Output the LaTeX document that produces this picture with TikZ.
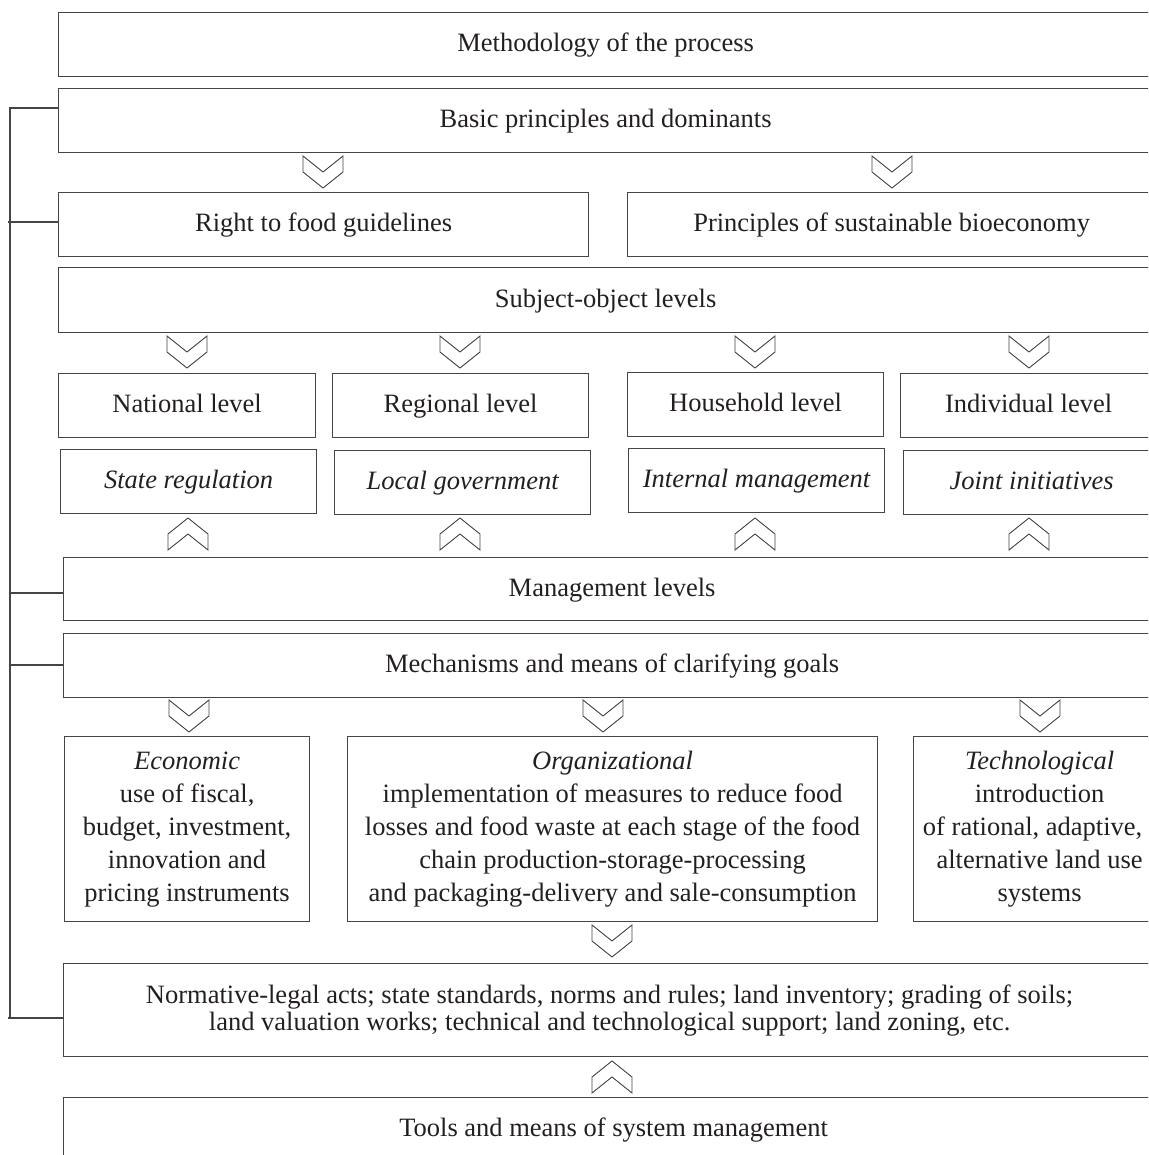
\documentclass[tikz,border=0pt]{standalone}
\usepackage{fontspec}
\setmainfont{Liberation Serif}
\usetikzlibrary{calc}

\definecolor{linegray}{HTML}{454545}
\definecolor{textgray}{HTML}{231F20}

\tikzset{
  blkm/.style={draw=linegray, line width=1.2pt, rectangle, anchor=north west,
    inner sep=0pt, align=center, text=textgray,
    font=\fontsize{26.5}{33}\selectfont},
  blk/.style={blkm, text height=19pt, text depth=5pt},
  chev/.style={draw=linegray, line width=0.9pt, line join=miter},
  brk/.style={draw=linegray, line width=1.1pt}
}

% freccia a chevron verso il basso / verso l'alto
\newcommand{\chevdn}[2]{\draw[chev] (#1-20,#2) -- (#1,#2+16) -- (#1+20,#2) -- (#1+20,#2+16) -- (#1,#2+32) -- (#1-20,#2+16) -- cycle;}
\newcommand{\chevup}[2]{\draw[chev] (#1-20,#2) -- (#1,#2-16) -- (#1+20,#2) -- (#1+20,#2-16) -- (#1,#2-32) -- (#1-20,#2-16) -- cycle;}

\begin{document}
\begin{tikzpicture}[x=1pt, y=-1pt]
\clip (0,0) rectangle (1148,1155);

% Blocchi superiori
\node[blk, minimum width=1094pt, minimum height=64pt] (meth) at (58,12) {Methodology of the process};
\node[blk, minimum width=1094pt, minimum height=64pt] (basic) at (58,88) {Basic principles and dominants};
\node[blk, minimum width=530pt, minimum height=64pt] (food) at (58,192) {Right to food guidelines};
\node[blk, minimum width=528pt, minimum height=64pt] (bioec) at (627,192) {Principles of sustainable bioeconomy};
\node[blk, minimum width=1094pt, minimum height=65pt] (subj) at (58,267) {Subject-object levels};

% Livelli
\node[blk, minimum width=257pt, minimum height=64pt] (natl) at (58,373) {National level};
\node[blk, minimum width=256pt, minimum height=64pt] (regl) at (332,373) {Regional level};
\node[blk, minimum width=256pt, minimum height=64pt] (hhld) at (627,372) {Household level};
\node[blk, minimum width=256pt, minimum height=64pt] (indl) at (900,373) {Individual level};

\node[blk, minimum width=256pt, minimum height=64pt] (sreg) at (60,449) {\itshape State regulation};
\node[blk, minimum width=256pt, minimum height=64pt] (lgov) at (334,450) {\itshape Local government};
\node[blk, minimum width=256pt, minimum height=64pt] (imgt) at (628,448) {\itshape Internal management};
\node[blk, minimum width=256pt, minimum height=64pt] (jini) at (903,450) {\itshape Joint initiatives};

% Gestione e meccanismi
\node[blk, minimum width=1097pt, minimum height=63pt] (mlev) at (63,557) {Management levels};
\node[blk, minimum width=1097pt, minimum height=64pt] (mech) at (63,633) {Mechanisms and means of clarifying goals};

\node[blkm, minimum width=245pt, minimum height=185pt] (econ) at (64,736)
  {\textit{Economic}\\use of fiscal,\\budget, investment,\\innovation and\\pricing instruments};
\node[blkm, minimum width=530pt, minimum height=185pt] (orgn) at (347,736)
  {\textit{Organizational}\\implementation of measures to reduce food\\losses and food waste at each stage of the food\\chain production-storage-processing\\and packaging-delivery and sale-consumption};
\node[blkm, minimum width=252pt, minimum height=185pt] (tech) at (913,736)
  {\textit{Technological}\\introduction\\of rational, adaptive,\hspace{14pt}\mbox{}\\alternative land use\\systems};

% Blocchi inferiori
\node[blkm, minimum width=1092pt, minimum height=93pt, font=\fontsize{26.5}{27}\selectfont] (norm) at (63,963)
  {Normative-legal acts; state standards, norms and rules; land inventory; grading of soils;\\land valuation works; technical and technological support; land zoning, etc.};
\node[blk, minimum width=1100pt, minimum height=64pt] (tools) at (63,1097) {Tools and means of system management};

% Chevron
\chevdn{323}{156} \chevdn{892}{156}
\chevdn{187}{336} \chevdn{460}{336} \chevdn{755}{336} \chevdn{1029}{336}
\chevup{188}{550} \chevup{460}{550} \chevup{755}{550} \chevup{1029}{550}
\chevdn{189}{700} \chevdn{603}{700} \chevdn{1040}{700}
\chevdn{612}{925}
\chevup{612}{1093}

% Parentesi a sinistra
\coordinate (bk1) at (10,108);
\coordinate (bk2) at (8,222);
\coordinate (bk3) at (10,593);
\coordinate (bk4) at (10,665);
\coordinate (bk5) at (8,1018);
\draw[brk] (bk1 -| basic.west) -- (bk1) -- (10,1018);
\draw[brk] (bk2) -- (bk2 -| food.west);
\draw[brk] (bk3) -- (bk3 -| mlev.west);
\draw[brk] (bk4) -- (bk4 -| mech.west);
\draw[brk] (bk5) -- (bk5 -| norm.west);

\end{tikzpicture}
\end{document}
